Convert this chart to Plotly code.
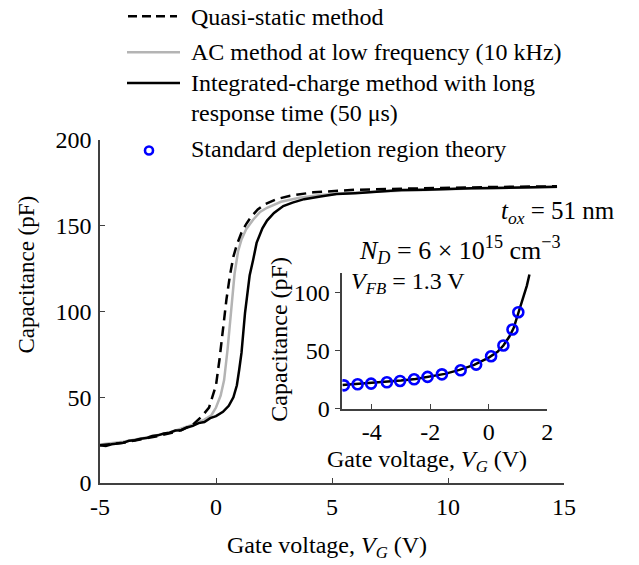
import plotly.graph_objects as go

# ---------------- data ----------------
qs_x = [-5, -4.5, -4, -3.5, -3, -2.5, -2, -1.5, -1, -0.6, -0.3, 0, 0.15, 0.3, 0.45, 0.6, 0.75, 0.9,
        1.1, 1.3, 1.5, 1.8, 2.1, 2.6, 3.2, 4.2, 5, 6, 8, 10, 12, 14.7]
qs_y = [22, 22.8, 23.5, 24.8, 26, 27.3, 29, 30.8, 34, 39, 44, 57, 72, 90, 107, 121, 132, 139,
        146, 151, 155, 159.5, 162.5, 165.5, 167.5, 169.5, 170.3, 171, 171.6, 172.2, 172.6, 173]

ac_x = [-5, -4, -3, -2, -1, -0.5, -0.2, 0, 0.2, 0.35, 0.5, 0.6, 0.7, 0.8, 0.95, 1.1, 1.3, 1.6,
        1.9, 2.2, 2.8, 3.6, 4.5, 5.5, 7, 9, 11, 13, 14.7]
ac_y = [22.5, 24, 26.5, 29.5, 34, 37, 39.5, 44, 51, 60, 78, 94, 110, 122, 135, 142, 148, 153.5,
        158, 160.5, 164, 166.3, 168, 169, 170, 171, 171.7, 172.2, 172.6]

ic_x = [-5, -4.75, -4.5, -4.25, -4, -3.75, -3.5, -3.25, -3, -2.75, -2.5, -2.25, -2, -1.75, -1.5,
        -1.25, -1, -0.75, -0.5, -0.25, 0, 0.3, 0.55, 0.75, 0.9, 1.0, 1.1, 1.25, 1.45, 1.6, 1.75,
        2.0, 2.2, 2.5, 2.9, 3.3, 3.8, 4.5, 5.2, 6, 7, 8, 9, 10, 11, 12, 13, 14, 14.7]
ic_y = [22, 21.6, 22.6, 23.1, 23.4, 24.6, 24.9, 25.8, 26.2, 27.4, 27.8, 28.9, 29.3, 30.6, 30.8,
        32.4, 33.3, 34.9, 35.6, 37.8, 39, 41.5, 45, 50, 57, 66, 76, 99, 121, 130, 140,
        148.5, 153, 157.5, 161.5, 163.5, 165.5, 167, 168.5, 169, 170, 170.8, 171, 171.5, 171.8, 172, 172.3, 172.5, 172.8]

# inset
inset_line_x = [-5, -4.5, -4, -3.5, -3, -2.5, -2, -1.5, -1, -0.5, 0, 0.3, 0.5, 0.7, 0.85, 1.0, 1.1, 1.2, 1.3, 1.39]
inset_line_y = [20.3, 21.2, 21.9, 23, 24.2, 25.6, 27.5, 30, 33.4, 37.7, 44, 49, 54.5, 62, 69.5, 81, 89, 97, 106, 115.8]
theory_x = [-4.95, -4.48, -4.02, -3.48, -3.03, -2.55, -2.09, -1.6, -0.96, -0.43, 0.08, 0.5, 0.81, 1.01]
theory_y = [20.1, 21.0, 21.6, 22.7, 23.9, 25.3, 27.4, 29.6, 33.1, 38.0, 45.2, 54.5, 68.3, 83.2]

main_xticks = [-5, 0, 5, 10, 15]
main_xticktext = ["-5", "0", "5", "10", "15"]
main_yticks = [0, 50, 100, 150, 200]
inset_xticks = [-4, -2, 0, 2]
inset_xticktext = ["-4", "-2", "0", "2"]
inset_yticks = [0, 50, 100]

legend_labels = ["Quasi-static method", "AC method at low frequency (10 kHz)",
                 "Integrated-charge method with long", "response time (50 μs)",
                 "Standard depletion region theory"]

FONT = "Liberation Serif, Times New Roman, serif"
AX = "#404040"
BLUE = "#0000ff"
GRAY = "#b4b4b4"

fig = go.Figure()
fig.add_trace(go.Scatter(x=ac_x, y=ac_y, mode="lines", line=dict(color=GRAY, width=2.5),
                         name=legend_labels[1], showlegend=False))
fig.add_trace(go.Scatter(x=ic_x, y=ic_y, mode="lines", line=dict(color="black", width=2.5),
                         name="Integrated-charge method with long response time (50 μs)", showlegend=False))
fig.add_trace(go.Scatter(x=qs_x, y=qs_y, mode="lines",
                         line=dict(color="black", width=2.5, dash="10px,6px"),
                         name=legend_labels[0], showlegend=False))

fig.add_trace(go.Scatter(x=inset_line_x, y=inset_line_y, mode="lines", xaxis="x2", yaxis="y2",
                         line=dict(color="black", width=2.5), showlegend=False))
fig.add_trace(go.Scatter(x=theory_x, y=theory_y, mode="markers", xaxis="x2", yaxis="y2",
                         marker=dict(symbol="circle-open", color=BLUE, size=10, line=dict(width=2.6, color=BLUE)),
                         name=legend_labels[4], showlegend=False))

# page body has an 8px margin, so the figure is drawn 8px smaller and offset
OFF = 8
W, H = 639 - OFF, 565 - OFF
L, R, T, B = 100 - OFF, 75, 140 - OFF, 81.5
pw, ph = W - L - R, H - T - B


def px(xr):
    # reference-picture x pixel -> paper coordinate
    return (xr - OFF - L) / pw


def py(yr):
    # reference-picture y pixel -> paper coordinate
    return (H - B - (yr - OFF)) / ph


axis_common = dict(showline=True, linecolor=AX, linewidth=1.5, showgrid=False, zeroline=False,
                   ticks="inside", tickcolor=AX, tickwidth=1.3, ticklen=5,
                   tickfont=dict(family=FONT, size=24, color="black"))

fig.update_layout(
    width=W, height=H, margin=dict(l=L, r=R, t=T, b=B),
    paper_bgcolor="white", plot_bgcolor="white",
    font=dict(family=FONT, size=24, color="black"),
    xaxis=dict(range=[-5, 15], tickvals=main_xticks, ticktext=main_xticktext,
               ticklabelstandoff=1, **axis_common),
    yaxis=dict(range=[0, 200], tickvals=main_yticks, ticklabelstandoff=2, **axis_common),
    xaxis2=dict(range=[-5, 2], domain=[px(342.4), px(547.3)], anchor="y2",
                tickvals=inset_xticks, ticktext=inset_xticktext, ticklabelstandoff=1, **axis_common),
    yaxis2=dict(range=[0, 117], domain=[py(409), py(273.3)], anchor="x2",
                tickvals=inset_yticks, **{**axis_common, "ticks": "outside", "ticklen": 6}),
    showlegend=False,
)

ann = []
# axis titles
ann.append(dict(text="Gate voltage, <i>V</i><sub><i>G</i></sub> (V)", x=px(327), y=py(548),
                xref="paper", yref="paper", showarrow=False, xanchor="center", yanchor="middle",
                font=dict(family=FONT, size=24, color="black")))
ann.append(dict(text="Capacitance (pF)", x=px(26.7), y=py(275), textangle=-90,
                xref="paper", yref="paper", showarrow=False, xanchor="center", yanchor="middle",
                font=dict(family=FONT, size=23, color="black")))
ann.append(dict(text="Gate voltage, <i>V</i><sub><i>G</i></sub> (V)", x=px(426.7), y=py(461),
                xref="paper", yref="paper", showarrow=False, xanchor="center", yanchor="middle",
                font=dict(family=FONT, size=24, color="black")))
ann.append(dict(text="Capacitance (pF)", x=px(279), y=py(340), textangle=-90,
                xref="paper", yref="paper", showarrow=False, xanchor="center", yanchor="middle",
                font=dict(family=FONT, size=24, color="black")))
# parameter labels
ann.append(dict(text="<i>t</i><sub><i>ox</i></sub> = 51 nm", x=px(558), y=py(213),
                xref="paper", yref="paper", showarrow=False, xanchor="center", yanchor="middle",
                font=dict(family=FONT, size=25, color="black")))
ann.append(dict(text="<i>N</i><sub><i>D</i></sub> = 6 × 10<sup>15</sup> cm<sup>−3</sup>", x=px(460), y=py(250),
                xref="paper", yref="paper", showarrow=False, xanchor="center", yanchor="middle",
                font=dict(family=FONT, size=26, color="black")))
ann.append(dict(text="<i>V</i><sub><i>FB</i></sub> = 1.3 V", x=px(408), y=py(283),
                xref="paper", yref="paper", showarrow=False, xanchor="center", yanchor="middle",
                font=dict(family=FONT, size=24, color="black")))

# legend (custom, matching the reference layout)
leg_text_y = [17, 52, 83, 113, 149]
for lbl, yy in zip(legend_labels, leg_text_y):
    ann.append(dict(text=lbl, x=px(189), y=py(yy), xref="paper", yref="paper", showarrow=False,
                    xanchor="left", yanchor="middle", font=dict(family=FONT, size=24, color="black")))
fig.update_layout(annotations=ann)

shapes = [
    dict(type="line", xref="paper", yref="paper", x0=px(128), x1=px(177), y0=py(16), y1=py(16),
         line=dict(color="black", width=2.5, dash="9px,5px")),
    dict(type="line", xref="paper", yref="paper", x0=px(127), x1=px(180), y0=py(52), y1=py(52),
         line=dict(color=GRAY, width=2.5)),
    dict(type="line", xref="paper", yref="paper", x0=px(127), x1=px(180), y0=py(83), y1=py(83),
         line=dict(color="black", width=2.5)),
    dict(type="circle", xref="paper", yref="paper", xsizemode="pixel", ysizemode="pixel",
         xanchor=px(149), yanchor=py(150.5), x0=-4, x1=4, y0=-4, y1=4,
         line=dict(color=BLUE, width=2.6)),
]
fig.update_layout(shapes=shapes)

fig.write_html("out.html")
